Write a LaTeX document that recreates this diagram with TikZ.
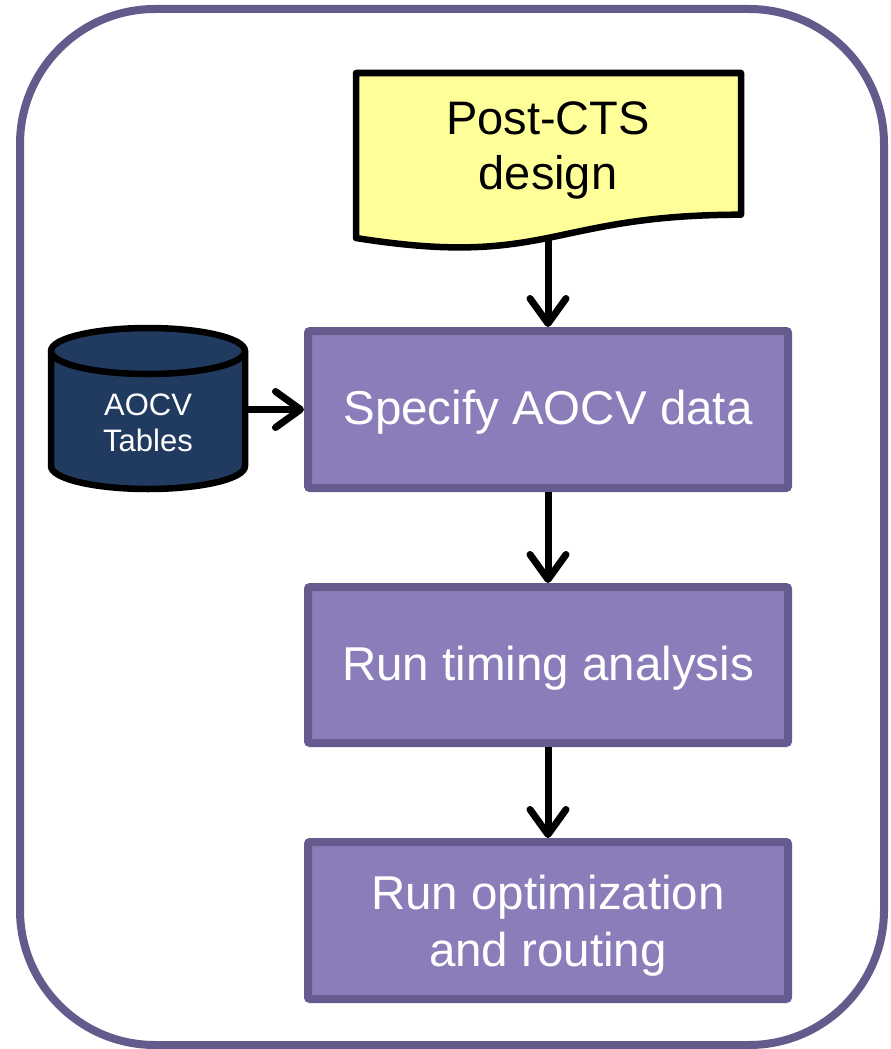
\documentclass[tikz,border=0pt]{standalone}
\usepackage{fontspec}
\setmainfont{Liberation Sans}
\usetikzlibrary{arrows.meta}
\definecolor{frameP}{RGB}{100,90,140}
\definecolor{boxFill}{RGB}{138,125,185}
\definecolor{boxLine}{RGB}{102,90,142}
\definecolor{docFill}{RGB}{255,255,153}
\definecolor{dbFill}{RGB}{32,58,96}
\tikzset{
  stepbox/.style={rectangle, draw=boxLine, fill=boxFill, line width=8pt,
    rounded corners=2pt, minimum width=480pt, minimum height=157pt, inner sep=0pt},
  steptext/.style={text=white, align=center, font=\fontsize{47.5}{57}\selectfont, inner sep=0pt},
  flowarrow/.style={line width=7pt, black,
    -{Straight Barb[length=25pt,width=36pt,round,line width=7pt]}},
  plaintext/.style={align=center, inner sep=0pt}
}
\begin{document}
\begin{tikzpicture}[x=1pt,y=1pt]
\useasboundingbox (0,0) rectangle (891,-1049);
% outer frame
\draw[frameP, line width=8pt, rounded corners=135pt] (20,-9) rectangle (884,-1045);
% document shape
\draw[black, line width=6.5pt, fill=docFill, line join=round]
  (356,-73) -- (741,-73) -- (741,-214.7)
  .. controls (548.5,-214.7) and (548.5,-268.6) .. (356,-238) -- cycle;
\node[plaintext, font=\fontsize{47}{55}\selectfont] (doc) at (548,-150) {Post-CTS\\design};
\coordinate (docb) at (548,-236);
% cylinder
\draw[black, line width=6.5pt, fill=dbFill]
  (51,-351) -- (51,-466) arc[start angle=180,end angle=360,x radius=97,y radius=23]
  -- (245,-351) arc[start angle=0,end angle=180,x radius=97,y radius=23] -- cycle;
\draw[black, line width=6.5pt]
  (51,-351) arc[start angle=180,end angle=360,x radius=97,y radius=23];
\node[plaintext, text=white, font=\fontsize{31}{36}\selectfont] (db) at (148,-423) {AOCV\\Tables};
\coordinate (dbe) at (248,-409.5);
% steps
\node[stepbox, label={[steptext, yshift=-3pt]center:Specify AOCV data}] (s1) at (548,-409.5) {};
\node[stepbox, minimum height=156pt, label={[steptext, yshift=-3pt]center:Run timing analysis}] (s2) at (548,-665) {};
\node[stepbox, label={[steptext, yshift=-5pt]center:{Run optimization\\and routing}}] (s3) at (548,-920.5) {};
% connectors
\draw[flowarrow] (docb) -- (s1.north);
\draw[flowarrow] (dbe) -- (s1.west);
\draw[flowarrow] (s1.south) -- (s2.north);
\draw[flowarrow] (s2.south) -- (s3.north);
\end{tikzpicture}
\end{document}
